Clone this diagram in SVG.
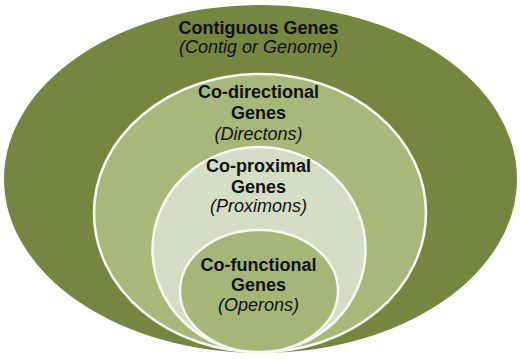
<svg xmlns="http://www.w3.org/2000/svg" width="520" height="361" viewBox="0 0 520 361">
  <style>
    .b { font-family: "Liberation Sans", Arial, sans-serif; font-size: 18px; font-weight: bold; fill: #111; text-anchor: middle; }
    .i { font-family: "Liberation Sans", Arial, sans-serif; font-size: 18px; font-style: italic; fill: #111; text-anchor: middle; }
    .ring { stroke: #f8f8f0; stroke-width: 2.5; }
  </style>
  <rect width="520" height="361" fill="#ffffff"/>
  <g id="contiguous">
    <ellipse cx="260.5" cy="179" rx="256.5" ry="174" fill="#768540"/>
    <text class="b" x="258.5" y="34">Contiguous Genes</text>
    <text class="i" x="258.5" y="53">(Contig or Genome)</text>
  </g>
  <g id="codirectional">
    <ellipse class="ring" cx="260" cy="213" rx="166" ry="139" fill="#a8b87a"/>
    <text class="b" x="258.5" y="98">Co-directional</text>
    <text class="b" x="258.5" y="119">Genes</text>
    <text class="i" x="258.5" y="140">(Directons)</text>
  </g>
  <g id="coproximal">
    <ellipse class="ring" cx="259" cy="249.5" rx="106.5" ry="102.5" fill="#d5dec4"/>
    <text class="b" x="258.5" y="172">Co-proximal</text>
    <text class="b" x="258.5" y="193">Genes</text>
    <text class="i" x="258.5" y="212">(Proximons)</text>
  </g>
  <g id="cofunctional">
    <ellipse class="ring" cx="259" cy="291" rx="79" ry="61" fill="#a6b678"/>
    <text class="b" x="258.5" y="271">Co-functional</text>
    <text class="b" x="258.5" y="291">Genes</text>
    <text class="i" x="258.5" y="311">(Operons)</text>
  </g>
</svg>
